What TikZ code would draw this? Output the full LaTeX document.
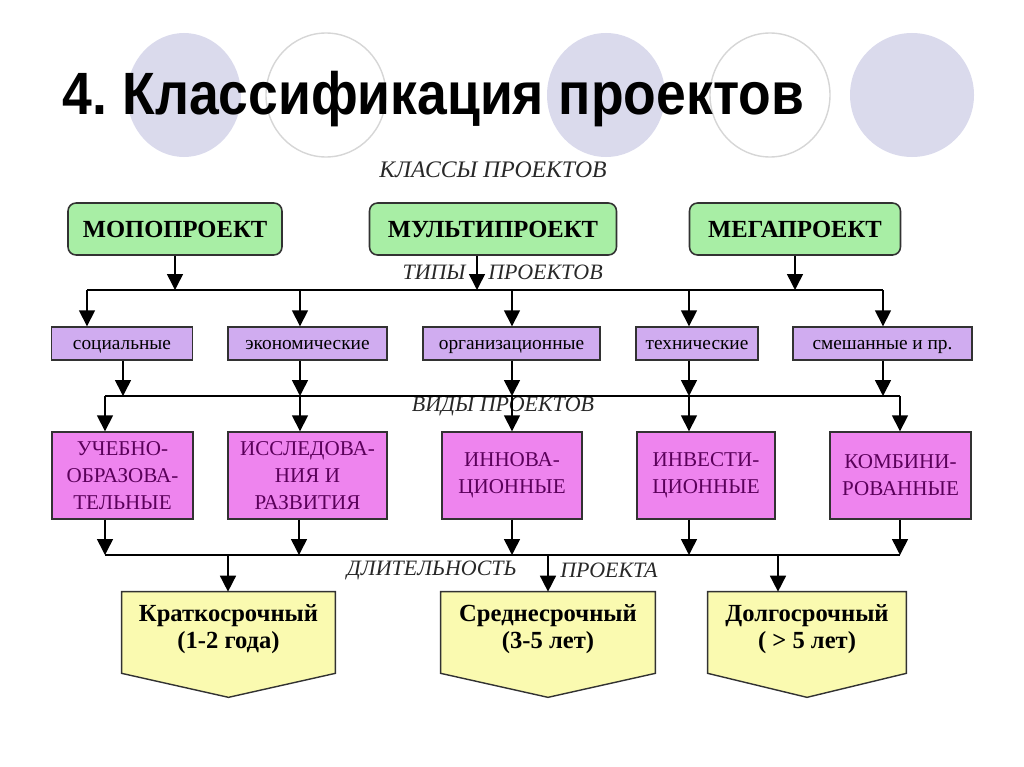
\documentclass[tikz,border=0pt]{standalone}
\usepackage{fontspec}
\setmainfont{Liberation Serif}
\newfontfamily\titlefont{Liberation Sans}
\usetikzlibrary{arrows.meta}
\definecolor{circfill}{RGB}{218,218,236}
\definecolor{circline}{RGB}{214,214,214}
\definecolor{greenfill}{RGB}{168,238,165}
\definecolor{lilac}{RGB}{208,172,240}
\definecolor{magen}{RGB}{238,132,238}
\definecolor{yell}{RGB}{250,250,176}
\definecolor{darkline}{RGB}{50,50,50}
\definecolor{purpletext}{RGB}{90,0,90}
\definecolor{labgrey}{RGB}{40,40,40}
\tikzset{
  arr/.style={draw=black, line width=0.9pt, -{Triangle[width=0.32cm,length=0.32cm]}},
  bus/.style={draw=black, line width=0.9pt},
  greenbox/.style={draw=darkline, line width=0.9pt, fill=greenfill, rounded corners=0.16cm,
    minimum width=#1, minimum height=1.04cm, inner sep=0pt,
    font=\fontsize{14}{16}\selectfont\bfseries},
  typebox/.style={draw=darkline, line width=0.8pt, fill=lilac,
    minimum width=#1, minimum height=0.66cm, inner sep=0pt,
    text height=1.7ex, text depth=0.1ex,
    font=\fontsize{11}{12}\selectfont},
  kindbox/.style={draw=darkline, line width=0.8pt, fill=magen,
    minimum width=#1, minimum height=1.74cm, inner sep=0pt, align=center,
    text=purpletext, font=\fontsize{12}{15.3}\selectfont},
  yframe/.style={minimum width=#1, minimum height=1.62cm, inner sep=0pt},
  ytext/.style={align=center, font=\fontsize{14}{15.3}\selectfont\bfseries},
  lab/.style={font=\fontsize{12.5}{14}\selectfont\itshape, text=labgrey, inner sep=0pt},
}
\begin{document}
\begin{tikzpicture}[x=0.02cm,y=-0.02cm]
\useasboundingbox (0,0) rectangle (1024,767);
% decorative circles
\draw[fill=circfill, draw=none] (184,95) ellipse [x radius=57, y radius=62];
\draw[fill=white, draw=circline, line width=0.8pt] (326,95) ellipse [x radius=60, y radius=62];
\draw[fill=circfill, draw=none] (606,95) ellipse [x radius=59, y radius=62];
\draw[fill=white, draw=circline, line width=0.8pt] (770,95) ellipse [x radius=60, y radius=62];
\draw[fill=circfill, draw=none] (912,95) ellipse [x radius=62, y radius=62];
% title
\node[anchor=base west, inner sep=0pt] (title) at (62,114)
  {\titlefont\fontsize{34}{40}\selectfont\bfseries\scalebox{0.895}[1]{4.\kern-0.08em{} Классификация проектов}};
% labels
\node[lab, font=\fontsize{13.5}{14}\selectfont\itshape] (lclass) at (493,170) {КЛАССЫ ПРОЕКТОВ};
\node[lab, anchor=east] (ltip1) at (466,272) {ТИПЫ};
\node[lab, anchor=west] (ltip2) at (488,272) {ПРОЕКТОВ};
\node[lab] (lvid) at (503,406) {ВИДЫ ПРОЕКТОВ};
\node[lab, anchor=east] (ldur1) at (517,570) {ДЛИТЕЛЬНОСТЬ};
\node[lab, anchor=west] (ldur2) at (560,570) {ПРОЕКТА};
% classes
\node[greenbox=4.28cm] (mono) at (175,229) {МОПОПРОЕКТ};
\node[greenbox=4.94cm] (multi) at (493,229) {МУЛЬТИПРОЕКТ};
\node[greenbox=4.22cm] (mega) at (795,229) {МЕГАПРОЕКТ};
% types
\node[typebox=2.82cm] (soc) at (122,343.5) {социальные};
\node[typebox=3.18cm] (eco) at (307.5,343.5) {экономические};
\node[typebox=3.54cm] (org) at (511.5,343.5) {организационные};
\node[typebox=2.44cm] (tech) at (697,343.5) {технические};
\node[typebox=3.58cm] (mix) at (882.5,343.5) {смешанные и пр.};
% kinds
\node[kindbox=2.82cm] (edu) at (122.5,475.5) {УЧЕБНО-\\ОБРАЗОВА-\\ТЕЛЬНЫЕ};
\node[kindbox=3.18cm] (res) at (307.5,475.5) {ИССЛЕДОВА-\\НИЯ И\\РАЗВИТИЯ};
\node[kindbox=2.80cm] (inn) at (512,475.5) {ИННОВА-\\ЦИОННЫЕ};
\node[kindbox=2.76cm] (inv) at (706,475.5) {ИНВЕСТИ-\\ЦИОННЫЕ};
\node[kindbox=2.82cm] (comb) at (900.5,475.5) {КОМБИНИ-\\РОВАННЫЕ};
% durations (pentagon arrows)
\node[yframe=4.26cm] (dshort) at (228.5,632.5) {};
\node[yframe=4.28cm] (dmid) at (548,632.5) {};
\node[yframe=3.96cm] (dlong) at (807,632.5) {};
\foreach \n in {dshort,dmid,dlong}{
  \draw[fill=yell, draw=darkline, line width=0.8pt]
    (\n.north west) -- (\n.north east) -- (\n.south east)
    -- ([yshift=-0.48cm]\n.south) -- (\n.south west) -- cycle;
}
\node[ytext] (tshort) at (228.5,629) {Краткосрочный\\(1-2 года)};
\node[ytext] (tmid) at (548,629) {Среднесрочный\\(3-5 лет)};
\node[ytext] (tlong) at (807,629) {Долгосрочный\\( > 5 лет)};
% bus coordinates
\coordinate (b1L) at (87,290);
\coordinate (b1R) at (883,290);
\coordinate (j1) at (477,290);
\coordinate (b2L) at (105,396);
\coordinate (b2R) at (900,396);
\coordinate (b3L) at (105,555);
\coordinate (b3R) at (900,555);
\coordinate (k1) at (123,0);
\coordinate (k2) at (300,0);
\coordinate (k3) at (512,0);
\coordinate (k4) at (689,0);
\coordinate (r2) at (299,0);
\coordinate (jd1) at (228,555);
\coordinate (jd2) at (548,555);
\coordinate (jd3) at (778,555);
% classes to bus 1
\draw[arr] (mono.south) -- (mono.south |- b1L);
\draw[arr] (multi.south -| j1) -- (j1);
\draw[arr] (mega.south) -- (mega.south |- b1L);
\draw[bus] (b1L) -- (b1R);
% bus 1 to types
\draw[arr] (b1L) -- (b1L |- soc.north);
\draw[arr] (k2 |- b1L) -- (k2 |- eco.north);
\draw[arr] (k3 |- b1L) -- (k3 |- org.north);
\draw[arr] (k4 |- b1L) -- (k4 |- tech.north);
\draw[arr] (b1R) -- (b1R |- mix.north);
% types to bus 2
\draw[arr] (k1 |- soc.south) -- (k1 |- b2L);
\draw[arr] (k2 |- eco.south) -- (k2 |- b2L);
\draw[arr] (k3 |- org.south) -- (k3 |- b2L);
\draw[arr] (k4 |- tech.south) -- (k4 |- b2L);
\draw[arr] (b1R |- mix.south) -- (b1R |- b2L);
\draw[bus] (b2L) -- (b2R);
% bus 2 to kinds
\draw[arr] (b2L) -- (b2L |- edu.north);
\draw[arr] (k2 |- b2L) -- (k2 |- res.north);
\draw[arr] (k3 |- b2L) -- (k3 |- inn.north);
\draw[arr] (k4 |- b2L) -- (k4 |- inv.north);
\draw[arr] (b2R) -- (b2R |- comb.north);
% kinds to bus 3
\draw[arr] (b3L |- edu.south) -- (b3L);
\draw[arr] (r2 |- res.south) -- (r2 |- b3L);
\draw[arr] (k3 |- inn.south) -- (k3 |- b3L);
\draw[arr] (k4 |- inv.south) -- (k4 |- b3L);
\draw[arr] (b3R |- comb.south) -- (b3R);
\draw[bus] (b3L) -- (b3R);
% bus 3 to durations
\draw[arr] (jd1) -- (jd1 |- dshort.north);
\draw[arr] (jd2) -- (jd2 |- dmid.north);
\draw[arr] (jd3) -- (jd3 |- dlong.north);
\end{tikzpicture}
\end{document}
